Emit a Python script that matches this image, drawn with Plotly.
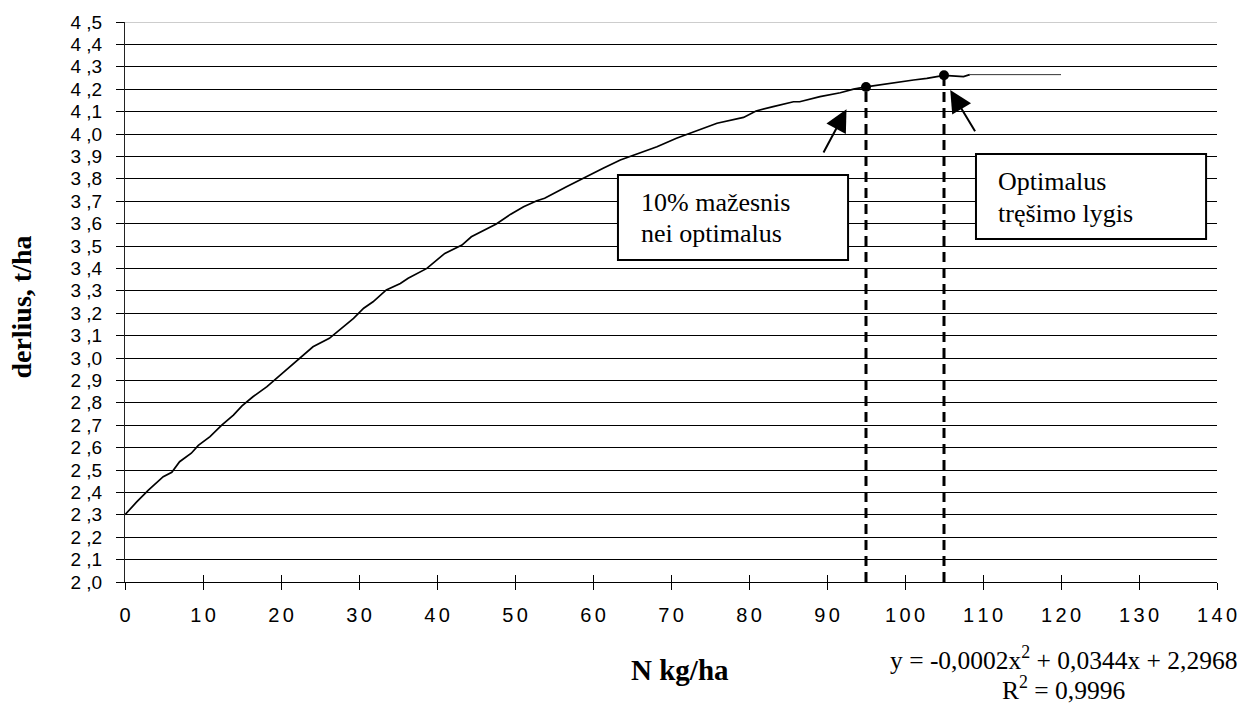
import plotly.graph_objects as go

# ---- data ----
n_rate = [0, 1.5, 3, 4.9, 6, 7, 8.5, 9.4, 10.9, 12.4, 13.9, 15, 16.4, 18.2, 19.9, 21.6,
          22.6, 24.1, 26.2, 27.5, 29.3, 30.6, 31.8, 33.5, 35.3, 36.3, 37.8, 38.7, 41,
          43.2, 44.4, 46.2, 47.6, 49.4, 51.1, 52.8, 53.8, 56.6, 59, 61.3, 63.5, 66,
          68.2, 70.7, 72.4, 73.7, 75.9, 79.3, 80.9, 83.1, 85.7, 86.5, 89.1, 91.7,
          93.4, 95, 98.5, 101.1, 102.8, 105, 107.5, 108.3]
yield_t = [2.30, 2.358, 2.41, 2.47, 2.49, 2.537, 2.575, 2.61, 2.649, 2.70, 2.745, 2.786,
           2.827, 2.872, 2.924, 2.976, 3.006, 3.05, 3.088, 3.125, 3.177, 3.222, 3.251,
           3.304, 3.333, 3.356, 3.385, 3.40, 3.467, 3.504, 3.541, 3.574, 3.598, 3.641,
           3.675, 3.702, 3.713, 3.765, 3.805, 3.847, 3.884, 3.917, 3.943, 3.981, 4.003,
           4.018, 4.048, 4.074, 4.103, 4.122, 4.144, 4.144, 4.167, 4.184, 4.20, 4.21,
           4.229, 4.241, 4.248, 4.262, 4.256, 4.265]
flat_n = [108.3, 120]
flat_y = [4.265, 4.265]
opt_n = [95, 105]
opt_y = [4.21, 4.262]

x_tick_vals = [0, 10, 20, 30, 40, 50, 60, 70, 80, 90, 100, 110, 120, 130, 140]
x_tick_labels = ["0", "10", "20", "30", "40", "50", "60", "70", "80", "90", "100",
                 "110", "120", "130", "140"]
y_tick_vals = [2.0, 2.1, 2.2, 2.3, 2.4, 2.5, 2.6, 2.7, 2.8, 2.9, 3.0, 3.1, 3.2, 3.3,
               3.4, 3.5, 3.6, 3.7, 3.8, 3.9, 4.0, 4.1, 4.2, 4.3, 4.4, 4.5]
y_tick_labels = ["2,0", "2,1", "2,2", "2,3", "2,4", "2,5", "2,6", "2,7", "2,8", "2,9",
                 "3,0", "3,1", "3,2", "3,3", "3,4", "3,5", "3,6", "3,7", "3,8", "3,9",
                 "4,0", "4,1", "4,2", "4,3", "4,4", "4,5"]

label_low = ["10% mažesnis", "nei optimalus"]
label_opt = ["Optimalus", "tręšimo lygis"]
equation = "y = -0,0002x<sup>2</sup> + 0,0344x + 2,2968"
r_squared = "R<sup>2</sup> = 0,9996"
x_title = "N kg/ha"
y_title = "derlius, t/ha"

SANS = "Liberation Sans, Arial, sans-serif"
SERIF = "Liberation Serif, Times New Roman, serif"

# spaced tick text to mimic the wide rendering of the original
x_tick_text = ["\u2006".join(list(t)) for t in x_tick_labels]
y_tick_text = [t.replace(",", " ,") for t in y_tick_labels]

fig = go.Figure()

fig.add_trace(go.Scatter(x=n_rate, y=yield_t, mode="lines",
                         line=dict(color="black", width=1.7), hoverinfo="skip"))
fig.add_trace(go.Scatter(x=flat_n, y=flat_y, mode="lines",
                         line=dict(color="#333333", width=1), hoverinfo="skip"))
for xv, yv in zip(opt_n, opt_y):
    fig.add_trace(go.Scatter(x=[xv, xv], y=[y_tick_vals[0], yv], mode="lines",
                             line=dict(color="black", width=3, dash="10px,6px"),
                             hoverinfo="skip"))
fig.add_trace(go.Scatter(x=opt_n, y=opt_y, mode="markers",
                         marker=dict(color="black", size=10), hoverinfo="skip"))
# helper trace holding the overlaid axes used for the inner half of crossing ticks
fig.add_trace(go.Scatter(x=[x_tick_vals[0]], y=[y_tick_vals[0]], xaxis="x2",
                         yaxis="y2", mode="markers", marker=dict(opacity=0),
                         hoverinfo="skip"))

# top border line of the plot area is light grey in the original
fig.add_shape(type="line", xref="paper", yref="y", x0=0, x1=1,
              y0=y_tick_vals[-1], y1=y_tick_vals[-1],
              line=dict(color="#bdbdbd", width=1.5), layer="above")

# boxes
fig.add_shape(type="rect", xref="x", yref="y", x0=63.2, x1=92.7, y0=3.4375, y1=3.817,
              line=dict(color="black", width=2), fillcolor="white", layer="above")
fig.add_shape(type="rect", xref="x", yref="y", x0=109.1, x1=138.6, y0=3.531, y1=3.911,
              line=dict(color="black", width=2), fillcolor="white", layer="above")

box_font = dict(family=SERIF, size=26, color="black")
annos = []
for txt, yy in zip(label_low, [3.692, 3.558]):
    annos.append(dict(x=65.9, y=yy, xref="x", yref="y", text=txt, showarrow=False,
                      xanchor="left", yanchor="middle", font=box_font))
for txt, yy in zip(label_opt, [3.786, 3.647]):
    annos.append(dict(x=111.7, y=yy, xref="x", yref="y", text=txt, showarrow=False,
                      xanchor="left", yanchor="middle", font=box_font))
annos += [
    dict(x=92.5, y=4.11, ax=89.45, ay=3.911, xref="x", yref="y", axref="x", ayref="y",
         text="", showarrow=True, arrowhead=2, arrowsize=2.2, arrowwidth=2,
         arrowcolor="black", standoff=0),
    dict(x=105.8, y=4.196, ax=109.1, ay=4.006, xref="x", yref="y", axref="x", ayref="y",
         text="", showarrow=True, arrowhead=2, arrowsize=2.2, arrowwidth=2,
         arrowcolor="black", standoff=0),
    dict(x=120.3, y=-0.136, xref="x", yref="paper", text=equation, showarrow=False,
         xanchor="center", yanchor="middle",
         font=dict(family=SERIF, size=25.5, color="black")),
    dict(x=120.3, y=-0.191, xref="x", yref="paper", text=r_squared, showarrow=False,
         xanchor="center", yanchor="middle",
         font=dict(family=SERIF, size=25.5, color="black")),
    dict(x=0.508, y=-0.157, xref="paper", yref="paper", text="<b>" + x_title + "</b>",
         showarrow=False, xanchor="center", yanchor="middle",
         font=dict(family=SERIF, size=29, color="black")),
    dict(x=-0.0943, y=0.49, xref="paper", yref="paper", text="<b>" + y_title + "</b>",
         showarrow=False, xanchor="center", yanchor="middle", textangle=-90,
         font=dict(family=SERIF, size=28, color="black")),
]

fig.update_layout(
    width=1242, height=706,
    margin=dict(l=125, r=25, t=22, b=124, pad=0),
    paper_bgcolor="white", plot_bgcolor="white",
    showlegend=False,
    annotations=annos,
    xaxis=dict(range=[0, 140], tickmode="array", tickvals=x_tick_vals,
               ticktext=x_tick_text, ticks="outside", ticklen=7, tickwidth=1,
               tickcolor="black", showgrid=False, zeroline=False,
               showline=True, linecolor="black", linewidth=1,
               tickfont=dict(family=SANS, size=20, color="black"),
               ticklabelstandoff=8, ticklabeloverflow="allow", automargin=False,
               fixedrange=True),
    xaxis2=dict(range=[0, 140], overlaying="x", anchor="y", side="bottom",
                tickmode="array", tickvals=x_tick_vals, ticks="inside", ticklen=7,
                tickwidth=1, tickcolor="black", showticklabels=False, showgrid=False,
                zeroline=False, showline=False, fixedrange=True),
    yaxis=dict(range=[2.0, 4.5], tickmode="array", tickvals=y_tick_vals,
               ticktext=y_tick_text, ticks="outside", ticklen=8, tickwidth=1,
               tickcolor="black", showgrid=True, gridcolor="black", gridwidth=1,
               zeroline=False, showline=True, linecolor="#222222", linewidth=1,
               tickfont=dict(family=SANS, size=19, color="black"),
               ticklabelstandoff=10, automargin=False, fixedrange=True),
    yaxis2=dict(range=[2.0, 4.5], overlaying="y", anchor="x", side="left",
                tickmode="array", tickvals=y_tick_vals, ticks="inside", ticklen=8,
                tickwidth=1, tickcolor="black", showticklabels=False, showgrid=False,
                zeroline=False, showline=False, fixedrange=True),
)

# remove the browser's default 8px body margin so the 1242x706 figure fills the window
fig.write_html("out.html",
               config={"displayModeBar": False, "staticPlot": True},
               post_script="document.body.style.margin='0';"
                           "document.body.style.overflow='hidden';")
